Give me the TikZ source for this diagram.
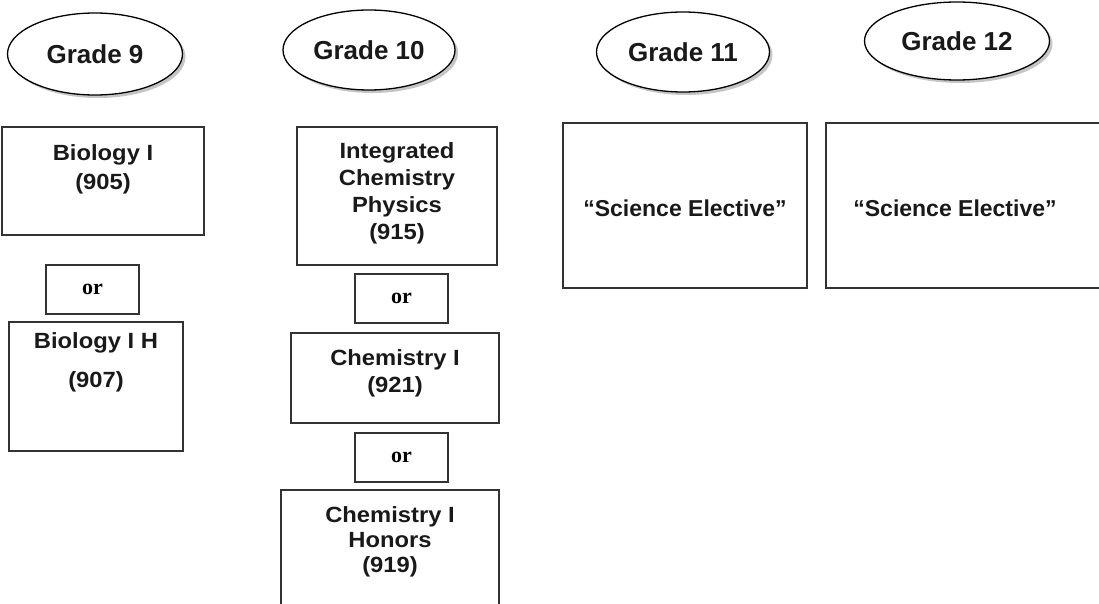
\documentclass[tikz,border=0pt]{standalone}
\usepackage{fontspec}
\setmainfont{Liberation Sans}
\newfontfamily\boxfont[FakeStretch=1.08]{Liberation Sans}
\newfontfamily\orfont{Liberation Serif}
\usetikzlibrary{shapes.geometric,shadows}

\begin{document}
\begin{tikzpicture}[x=1pt,y=-1pt]
\tikzstyle{grade} = [ellipse, draw=black, line width=1.3pt, fill=white, text=black!90, inner sep=0,
    drop shadow={shadow xshift=3pt, shadow yshift=-3pt, fill=black!45},
    font=\bfseries\fontsize{26}{30}\selectfont]
\tikzstyle{course} = [rectangle, draw=black!80, line width=2pt, inner sep=0]
\tikzstyle{coursetext} = [anchor=north, align=center, inner sep=0, text=black!90,
    font=\boxfont\bfseries\fontsize{22}{27}\selectfont]
\tikzstyle{orbox} = [rectangle, draw=black!80, line width=2pt, minimum width=93, minimum height=49,
    font=\orfont\bfseries\fontsize{22}{24}\selectfont]
\tikzstyle{elective} = [inner sep=0, text=black!90, font=\bfseries\fontsize{23}{27}\selectfont]

\useasboundingbox (0,0) rectangle (1099,604);
\clip (0,0) rectangle (1099,604);

% grades
\node [grade, minimum width=175, minimum height=82] (g9) at (95,54) {Grade 9};
\node [grade, minimum width=172, minimum height=80] (g10) at (369,50) {Grade 10};
\node [grade, minimum width=173, minimum height=80] (g11) at (683,52) {Grade 11};
\node [grade, minimum width=185, minimum height=78] (g12) at (957,41) {Grade 12};

% grade 9
\node [course, minimum width=202, minimum height=108] (bio) at (103,181) {};
\node [coursetext] (biot) at ([yshift=-18pt]bio.north) {Biology I\\[2pt](905)};
\node [orbox] (or1) at (92.5,289.5) {or};
\node [course, minimum width=174, minimum height=129] (bioh) at (96,386.5) {};
\node [coursetext] (bioht) at ([yshift=-11pt]bioh.north) {Biology I H\\[12pt](907)};

% grade 10
\node [course, minimum width=200, minimum height=138] (icp) at (397,196) {};
\node [coursetext] (icpt) at ([yshift=-16pt]icp.north) {Integrated\\Chemistry\\Physics\\(915)};
\node [orbox] (or2) at (401.5,298.5) {or};
\node [course, minimum width=208, minimum height=90] (chem) at (395,378) {};
\node [coursetext] (chemt) at ([yshift=-17pt]chem.north) {Chemistry I\\(921)};
\node [orbox] (or3) at (401.5,457) {or};
\node [course, minimum width=218, minimum height=150] (chemh) at (390,565) {};
\node [coursetext] (chemht) at ([yshift=-17pt]chemh.north) {Chemistry I\\[-2pt]Honors\\[-2pt](919)};

% grades 11 and 12
\node [course, minimum width=244, minimum height=165] (sci11) at (685,205.5) {};
\node [elective] (sci11t) at ([yshift=-3pt]sci11.center) {“Science Elective”};
\node [course, minimum width=294, minimum height=165] (sci12) at (973,205.5) {};
\node [elective] (sci12t) at ([xshift=-18pt,yshift=-3pt]sci12.center) {“Science Elective”};
\end{tikzpicture}
\end{document}
